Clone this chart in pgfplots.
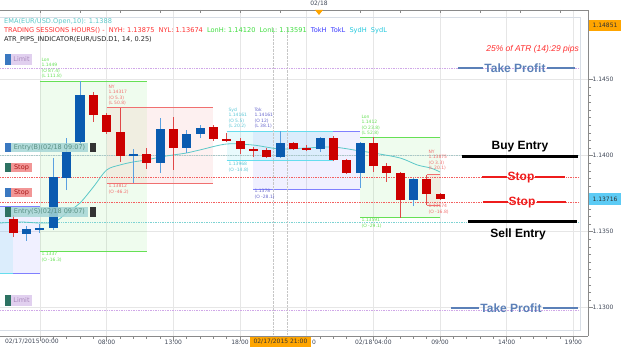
\documentclass[border=0pt]{standalone}
\usepackage{fontspec}
\setmainfont{DejaVu Sans}
\newfontfamily\arial{Liberation Sans}
\usepackage{pgfplots}
\usepackage{pgfplotstable}
\pgfplotsset{compat=1.18}
\definecolor{cblue}{HTML}{0A5BB0}
\definecolor{cred}{HTML}{CC0000}
\definecolor{wblue}{HTML}{5AA0E0}
\definecolor{wred}{HTML}{E04848}
\definecolor{emac}{HTML}{5CC8C8}
\definecolor{tpc}{HTML}{5B80B8}
\definecolor{axgray}{HTML}{8A8A8A}
\definecolor{gridc}{HTML}{E6E6E6}
\definecolor{framec}{HTML}{D8DEE6}
\definecolor{lonc}{HTML}{66E055}
\definecolor{nyc}{HTML}{F07070}
\definecolor{sydc}{HTML}{66DDEE}
\definecolor{tokc}{HTML}{8080FF}
\definecolor{limitc}{HTML}{D0A8E8}
\definecolor{orangec}{HTML}{FFA500}
\definecolor{pricec}{HTML}{5CCBF5}
\definecolor{labc}{HTML}{404858}
\definecolor{hred}{HTML}{FF3030}
\definecolor{hgreen}{HTML}{3EDD3E}
\definecolor{hblue}{HTML}{3A3AFF}
\definecolor{hcyan}{HTML}{22C8DD}
\definecolor{stopred}{HTML}{EE1C1C}
\definecolor{entryc}{HTML}{A8C8C8}
\definecolor{sqblue}{HTML}{3A78C0}
\definecolor{sqteal}{HTML}{2D7262}
\definecolor{btnteal}{HTML}{A6D6D6}
\definecolor{btnred}{HTML}{F08484}
\definecolor{btnlim}{HTML}{DCC8EC}

\pgfplotstableread{
x open high low close
2 1.13485 1.13537 1.13439 1.13518
3 1.13510 1.13551 1.13491 1.13524
4 1.13524 1.13985 1.13511 1.13860
5 1.13853 1.14116 1.13774 1.14024
6 1.14090 1.14490 1.14070 1.14399
10 1.13998 1.14044 1.13820 1.14011
12 1.13952 1.14248 1.13886 1.14176
14 1.14051 1.14169 1.14018 1.14143
15 1.14143 1.14202 1.14116 1.14182
21 1.13991 1.14161 1.13985 1.14084
24 1.14044 1.14123 1.14024 1.14116
27 1.13886 1.14090 1.13787 1.14084
31 1.13709 1.13853 1.13669 1.13847
}\bull

\pgfplotstableread{
x open high low close
1 1.13583 1.13610 1.13465 1.13491
7 1.14399 1.14419 1.14222 1.14268
8 1.14268 1.14281 1.14143 1.14156
9 1.14156 1.14317 1.13959 1.13998
11 1.14011 1.14051 1.13912 1.13952
13 1.14176 1.14255 1.13906 1.14051
16 1.14189 1.14202 1.14097 1.14110
17 1.14110 1.14149 1.14090 1.14097
18 1.14097 1.14116 1.14011 1.14044
19 1.14044 1.14057 1.13991 1.14031
20 1.14038 1.14051 1.13985 1.13991
22 1.14084 1.14090 1.14038 1.14044
23 1.14051 1.14070 1.14031 1.14038
25 1.14116 1.14130 1.13965 1.13972
26 1.13972 1.13978 1.13880 1.13886
28 1.14084 1.14120 1.13893 1.13932
29 1.13932 1.13952 1.13827 1.13886
30 1.13886 1.13893 1.13591 1.13709
32 1.13847 1.13875 1.13674 1.13748
33 1.13748 1.13755 1.13709 1.13716
}\bear

\newcommand\hdrf{\fontsize{6.6}{7.5}\selectfont}
\newcommand\tinyf{\fontsize{4.5}{5.6}\selectfont}
\newcommand\btnf{\fontsize{6.5}{7}\selectfont}
\newcommand\bigf{\arial\bfseries\fontsize{12}{13}\selectfont}
\newcommand\tickf{\fontsize{6}{7}\selectfont}

\begin{document}
\begin{tikzpicture}
\begin{axis}[
  scale only axis, width=588pt, height=326pt,
  xmin=0, xmax=44.1, ymin=1.128138, ymax=1.149586,
  axis x line*=bottom, axis y line*=right,
  axis line style={-, axgray, line width=0.8pt},
  tick align=outside, major tick length=5pt, minor tick length=3pt,
  tick style={axgray, line width=0.6pt},
  xtick={3,8,13,18,23,28,33,38,43},
  xticklabels={,08:00,13:00,18:00,,02/18 04:00,09:00,14:00,19:00},
  minor x tick num=4,
  ytick={1.13,1.135,1.14,1.145},
  yticklabels={1.1300,1.1350,1.1400,1.1450},
  minor y tick num=9,
  /pgf/number format/assume math mode=true,
  ticklabel style={font=\tickf, text=labc},
  xticklabel style={yshift=4pt},
  yticklabel style={xshift=-4pt},
  grid=major, major grid style={gridc, line width=0.5pt},
]
% session boxes
\addplot[draw=none, fill=tokc, fill opacity=0.12] coordinates {(0,1.13228) (3,1.13228) (3,1.13665) (0,1.13665)} -- cycle;
\addplot[draw=none, fill=sydc, fill opacity=0.15] coordinates {(0,1.13228) (1,1.13228) (1,1.13665) (0,1.13665)} -- cycle;
\addplot[draw=none, fill=lonc, fill opacity=0.10] coordinates {(3,1.13373) (11,1.13373) (11,1.1449) (3,1.1449)} -- cycle;
\addplot[draw=none, fill=nyc, fill opacity=0.10] coordinates {(8,1.1382) (16,1.1382) (16,1.14317) (8,1.14317)} -- cycle;
\addplot[draw=none, fill=tokc, fill opacity=0.12] coordinates {(19,1.1378) (27,1.1378) (27,1.14161) (19,1.14161)} -- cycle;
\addplot[draw=none, fill=sydc, fill opacity=0.15] coordinates {(17,1.13968) (25,1.13968) (25,1.14161) (17,1.14161)} -- cycle;
\addplot[draw=none, fill=lonc, fill opacity=0.10] coordinates {(27,1.13591) (33,1.13591) (33,1.1412) (27,1.1412)} -- cycle;
\addplot[draw=none, fill=nyc, fill opacity=0.10] coordinates {(32,1.13674) (33,1.13674) (33,1.13875) (32,1.13875)} -- cycle;
% session lines
\addplot[tokc, line width=1pt] coordinates {(0,1.13665) (3,1.13665)};
\addplot[tokc, line width=1pt] coordinates {(1,1.13228) (3,1.13228)};
\addplot[sydc, line width=1pt] coordinates {(0,1.13228) (1,1.13228)};
\addplot[lonc, line width=1pt] coordinates {(3,1.1449) (11,1.1449)};
\addplot[lonc, line width=1pt] coordinates {(3,1.13373) (11,1.13373)};
\addplot[nyc, line width=1pt] coordinates {(8,1.14317) (16,1.14317)};
\addplot[nyc, line width=1pt] coordinates {(8,1.1382) (16,1.1382)};
\addplot[tokc, line width=1pt] coordinates {(19,1.14161) (27,1.14161)};
\addplot[tokc, line width=1pt] coordinates {(19,1.1378) (27,1.1378)};
\addplot[sydc, line width=1pt] coordinates {(17,1.14161) (25,1.14161)};
\addplot[sydc, line width=1pt] coordinates {(17,1.13968) (25,1.13968)};
\addplot[lonc, line width=1pt] coordinates {(27,1.1412) (33,1.1412)};
\addplot[lonc, line width=1pt] coordinates {(27,1.13591) (33,1.13591)};
\addplot[nyc, line width=0.8pt] coordinates {(32,1.13875) (33,1.13875)};
\addplot[nyc, line width=0.8pt] coordinates {(32,1.13674) (33,1.13674)};
% order levels
\addplot[limitc, densely dotted, line width=0.7pt] coordinates {(0,1.14577) (43.5,1.14577)};
\addplot[limitc, densely dotted, line width=0.7pt] coordinates {(0,1.12985) (43.5,1.12985)};
\addplot[entryc, densely dotted, line width=0.7pt] coordinates {(0,1.14) (43.5,1.14)};
\addplot[stopred!70, densely dotted, line width=0.7pt] coordinates {(0,1.1386) (43.5,1.1386)};
\addplot[stopred!70, densely dotted, line width=0.7pt] coordinates {(0,1.13695) (43.5,1.13695)};
\addplot[emac!80, densely dotted, line width=0.7pt] coordinates {(0,1.13563) (43.5,1.13563)};
% cursor
\draw[gray!45, densely dotted] (axis cs:20.475,1.128138) -- (axis cs:20.475,1.14848);
\draw[gray!45, densely dotted] (axis cs:21.525,1.128138) -- (axis cs:21.525,1.14848);
% EMA
\addplot[emac, line width=0.8pt, smooth] coordinates {
(0,1.13557) (1.5,1.13564) (3,1.13557) (4.1,1.13564) (5,1.13623) (6,1.13689) (7,1.13794)
(8,1.13906) (9,1.13939) (10,1.13959) (11,1.13972) (12,1.13991) (13,1.14005) (14,1.14018)
(15,1.14038) (17,1.14077) (19,1.14070) (21,1.14044) (23,1.14051) (25,1.14057) (27,1.14031)
(28,1.14018) (30,1.13985) (31.3,1.13939) (32.3,1.13919) (33,1.13893)};
% candles: wicks
\addplot[draw=none, mark=none, error bars/.cd, y dir=plus, y explicit, error mark=none,
  error bar style={draw=wblue, line width=1pt}]
  table[x=x, y=low, y error expr=\thisrow{high}-\thisrow{low}] {\bull};
\addplot[draw=none, mark=none, error bars/.cd, y dir=plus, y explicit, error mark=none,
  error bar style={draw=wred, line width=1pt}]
  table[x=x, y=low, y error expr=\thisrow{high}-\thisrow{low}] {\bear};
% candles: bodies
\addplot[draw=none, mark=none, error bars/.cd, y dir=plus, y explicit, error mark=none,
  error bar style={draw=cblue, line width=9pt}]
  table[x=x, y=open, y error expr=\thisrow{close}-\thisrow{open}] {\bull};
\addplot[draw=none, mark=none, error bars/.cd, y dir=plus, y explicit, error mark=none,
  error bar style={draw=cred, line width=9pt}]
  table[x=x, y=close, y error expr=\thisrow{open}-\thisrow{close}] {\bear};
\end{axis}

\begin{scope}[x=1pt, y=-1pt, shift={(0pt,336pt)}]
% frame pieces
\draw[framec, line width=0.7pt] (0,17) -- (580,17) -- (580,330) -- (0,330);
\draw[axgray, line width=0.8pt] (0,10) -- (588,10);
\foreach \i in {1,...,14} \draw[axgray, line width=0.6pt] (40*\i,10) -- (40*\i,13);
\node[font=\tickf, text=labc] at (319,4) {02/18};
\fill[orangec] (315,10) -- (323,10) -- (319,15) -- cycle;
% header
\node[anchor=west, font=\hdrf, text=emac, inner sep=0pt] at (4,22) {EMA(EUR/USD.Open,10): 1.1388};
\node[anchor=west, font=\hdrf, inner sep=0pt] at (4,31) {\textcolor{hred}{TRADING SESSIONS HOURS() -\ \ NYH: 1.13875\ \ NYL: 1.13674}\ \ \textcolor{hgreen}{LonH: 1.14120\ \ LonL: 1.13591}\ \ \textcolor{hblue}{TokH\ \ TokL}\ \ \textcolor{hcyan}{SydH\ \ SydL}};
\node[anchor=west, font=\hdrf, text=black!85, inner sep=0pt] at (4,40) {ATR\_PIPS\_INDICATOR(EUR/USD.D1, 14, 0.25)};
% session labels
\begin{scope}[every node/.style={font=\tinyf, align=left, inner sep=0.3pt}]
\node[anchor=south west, text=lonc] at (41,79) {Lon\\1.1449\\(O 87.4)\\(L 111.8)};
\node[anchor=north west, text=lonc] at (41,252) {1.1337\\(O -16.3)};
\node[anchor=south west, text=nyc] at (108,106) {NY\\1.14317\\(O 5.3)\\(L 50.8)};
\node[anchor=north west, text=nyc] at (108,184) {1.13812\\(O -46.2)};
\node[anchor=south west, text=sydc!90!black] at (228,129) {Syd\\1.14161\\(O 5.5)\\(L 20.2)};
\node[anchor=north west, text=sydc!90!black] at (228,162) {1.13968\\(O -14.8)};
\node[anchor=south west, text=tokc!80!black] at (254,129) {Tok\\1.14161\\(O 12)\\(L 38.1)};
\node[anchor=north west, text=tokc!80!black] at (254,189) {1.1378\\(O -28.1)};
\node[anchor=south west, text=lonc] at (361,136) {Lon\\1.1412\\(O 23.8)\\(L 52.8)};
\node[anchor=north west, text=lonc] at (361,218) {1.13591\\(O -29.1)};
\node[anchor=south west, text=nyc] at (428,171) {NY\\1.13875\\(O 3.3)\\(L 20.1)};
\node[anchor=north west, text=nyc] at (428,204) {1.13674\\(O -16.8)};
\end{scope}
% left buttons
\fill[sqblue] (5,54) rectangle (11,65);
\fill[btnlim, opacity=0.85] (11,54) rectangle (32,65);
\node[font=\btnf, text=limitc!80!black] at (21.5,59.5) {Limit};
\fill[sqblue] (5,143) rectangle (11,152);
\fill[btnteal, opacity=0.85] (11,143) rectangle (88,152);
\node[font=\btnf, text=sqteal!80] at (49.5,147.5) {Entry(B)(02/18 09:07)};
\fill[black!80] (90,143) rectangle (96,152);
\fill[sqteal] (5,163) rectangle (11,172);
\fill[btnred, opacity=0.85] (11,163) rectangle (32,172);
\node[font=\btnf, text=stopred!70!black] at (21.5,167.5) {Stop};
\fill[sqblue] (5,188) rectangle (11,197);
\fill[btnred, opacity=0.85] (11,188) rectangle (32,197);
\node[font=\btnf, text=stopred!70!black] at (21.5,192.5) {Stop};
\fill[sqteal] (5,207) rectangle (11,217);
\fill[btnteal, opacity=0.85] (11,207) rectangle (88,217);
\node[font=\btnf, text=sqteal!80] at (49.5,212) {Entry(S)(02/18 09:07)};
\fill[black!80] (90,207) rectangle (96,217);
\fill[sqteal] (5,295) rectangle (11,306);
\fill[btnlim, opacity=0.85] (11,295) rectangle (32,306);
\node[font=\btnf, text=limitc!80!black] at (21.5,300.5) {Limit};
% right annotations
\node[anchor=east, font=\arial\itshape\fontsize{8.5}{10}\selectfont, text=hred, inner sep=0pt] at (579,49) {25\% of ATR (14):29 pips};
\draw[tpc, line width=2.5pt] (458,68) -- (483,68);
\draw[tpc, line width=2.5pt] (547,68) -- (575,68);
\node[font=\bigf, text=tpc, inner sep=0pt] at (515,68.5) {Take Profit};
\draw[tpc, line width=2.5pt] (451,308) -- (479,308);
\draw[tpc, line width=2.5pt] (543,308) -- (578,308);
\node[font=\bigf, text=tpc, inner sep=0pt] at (511,308.5) {Take Profit};
\node[font=\bigf, inner sep=0pt] at (520,147) {Buy Entry};
\draw[black, line width=2.5pt] (462,156.5) -- (578,156.5);
\draw[stopred, line width=2.5pt] (482,177) -- (507,177);
\node[font=\bigf, text=stopred, inner sep=0pt] at (521,177.5) {Stop};
\draw[stopred, line width=2.5pt] (535,177) -- (565,177);
\draw[stopred, line width=2.5pt] (483,202) -- (508,202);
\node[font=\bigf, text=stopred, inner sep=0pt] at (522,202.5) {Stop};
\draw[stopred, line width=2.5pt] (537,202) -- (566,202);
\draw[black, line width=2.5pt] (468,221.5) -- (577,221.5);
\node[font=\bigf, inner sep=0pt] at (518,234) {Sell Entry};
% price tags
\fill[orangec] (589,20) rectangle (621,31);
\node[font=\tickf, text=black!80] at (605,25.5) {1.14851};
\fill[pricec] (589,193) rectangle (621,205);
\node[font=\tickf, text=black!80] at (605,199) {1.13716};
% bottom labels
\node[anchor=east, font=\tickf, text=labc, inner sep=0pt] at (59,342) {02/17/2015 00:00};
\fill[orangec] (250,337) rectangle (311,347);
\node[font=\tickf, text=black!80, inner sep=0pt] at (280.5,342) {02/17/2015 21:00};
\node[anchor=west, font=\tickf, text=labc, inner sep=0pt] at (312,342) {0};
\end{scope}
\pgfresetboundingbox
\path[use as bounding box] (0pt,-11pt) rectangle (623pt,336pt);
\end{tikzpicture}
\end{document}
